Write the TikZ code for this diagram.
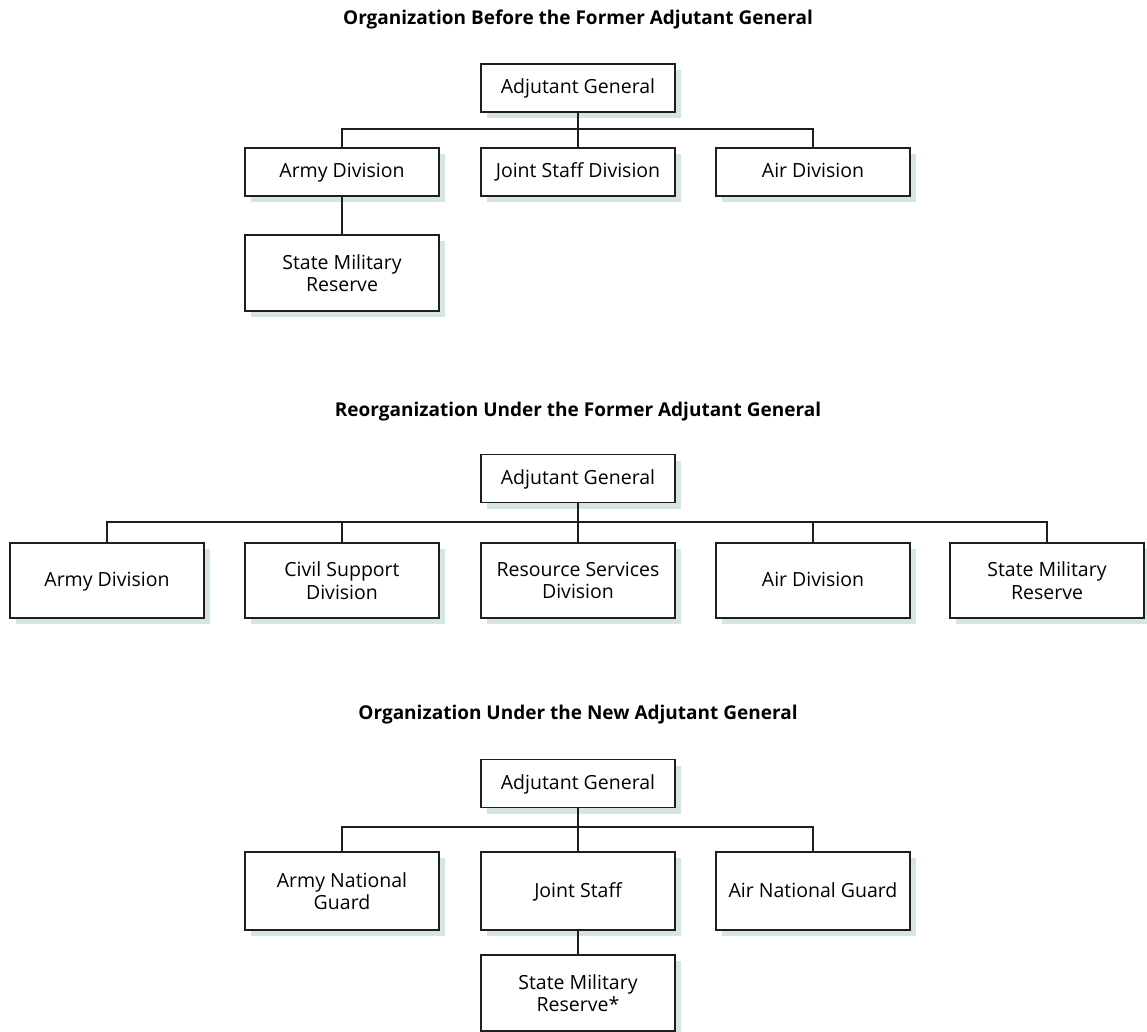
\documentclass[tikz,border=0pt]{standalone}
\usepackage{fontspec}
\setmainfont{Open Sans}
\usetikzlibrary{shadows}
\definecolor{shadowc}{RGB}{212,230,221}
\definecolor{linec}{RGB}{30,30,30}
\begin{document}
\begin{tikzpicture}[x=1pt,y=-1pt,
  box/.style={draw=linec, line width=1.2pt, fill=white, minimum width=194pt,
    minimum height=48pt, inner sep=0pt, align=center,
    font=\fontsize{19.5}{22.5}\selectfont,
    drop shadow={shadow xshift=6pt, shadow yshift=-6pt, fill=shadowc, opacity=1, draw=none}},
  one/.style={text height=13pt, text depth=1pt},
  tall/.style={box, minimum height=76pt},
  taller/.style={box, minimum height=78pt},
  title/.style={font=\bfseries\fontsize{19}{22}\selectfont},
  conn/.style={draw=linec, line width=1.2pt}]
\useasboundingbox (0,0) rectangle (1147,1032);

% ---------- Section 1 ----------
\node[title] (t1) at (578,20) {Organization Before the Former Adjutant General};
\node[box, one] (ag1) at (578,88) {Adjutant General};
\node[box, one] (army1) at (342,172) {Army Division};
\node[box, one] (js1) at (578,172) {Joint Staff Division};
\node[box, one] (air1) at (813,172) {Air Division};
\node[tall] (smr1) at (342,273) {State Military\\Reserve};
\coordinate (bus1) at (578,129);
\draw[conn] (ag1.south) -- (js1.north);
\draw[conn] (army1.north) |- (bus1) -| (air1.north);
\draw[conn] (army1.south) -- (smr1.north);

% ---------- Section 2 ----------
\node[title] (t2) at (578,412) {Reorganization Under the Former Adjutant General};
\node[box, one] (ag2) at (578,478.5) {Adjutant General};
\node[tall, one, minimum height=75pt] (army2) at (107,580.5) {Army Division};
\node[tall, minimum height=75pt] (civ2) at (342,580.5) {Civil Support\\Division};
\node[tall, minimum height=75pt] (res2) at (578,580.5) {Resource Services\\Division};
\node[tall, one, minimum height=75pt] (air2) at (813,580.5) {Air Division};
\node[tall, minimum height=75pt] (smr2) at (1047,580.5) {State Military\\Reserve};
\coordinate (bus2) at (578,522);
\draw[conn] (ag2.south) -- (res2.north);
\draw[conn] (army2.north) |- (bus2) -| (smr2.north);
\draw[conn] (civ2.north) -- (civ2.north |- bus2);
\draw[conn] (air2.north) -- (air2.north |- bus2);

% ---------- Section 3 ----------
\node[title] (t3) at (578,715) {Organization Under the New Adjutant General};
\node[box, one] (ag3) at (578,783.5) {Adjutant General};
\node[taller] (ang3) at (342,891) {Army National\\Guard};
\node[taller, one] (js3) at (578,891) {Joint Staff};
\node[taller, one] (airng3) at (813,891) {Air National Guard};
\node[tall] (smr3) at (578,993) {State Military\\Reserve*};
\coordinate (bus3) at (578,827);
\draw[conn] (ag3.south) -- (js3.north);
\draw[conn] (ang3.north) |- (bus3) -| (airng3.north);
\draw[conn] (js3.south) -- (smr3.north);
\end{tikzpicture}
\end{document}
